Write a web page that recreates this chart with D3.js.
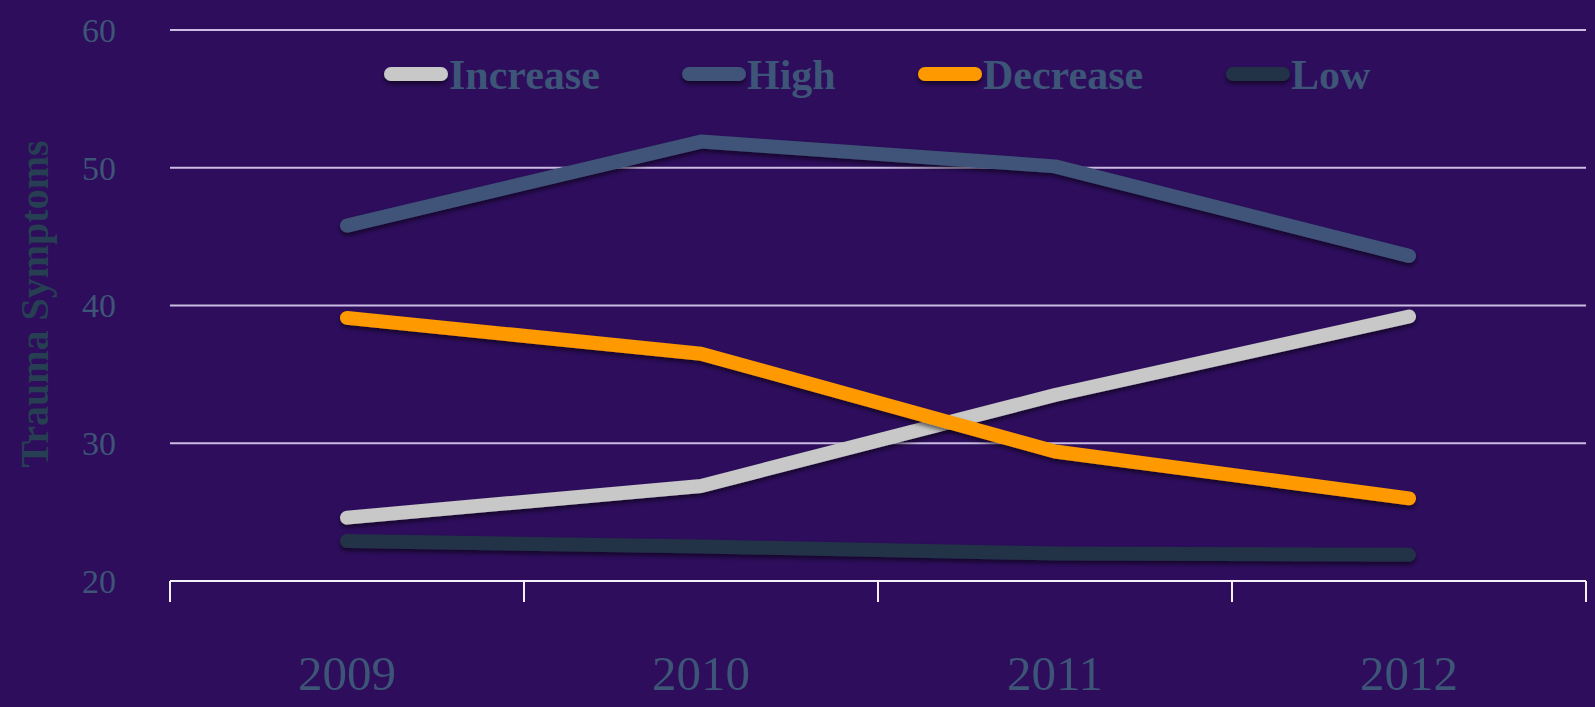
<!DOCTYPE html>
<html>
<head>
<meta charset="utf-8">
<script src="https://cdn.jsdelivr.net/npm/d3@7/dist/d3.min.js"></script>
<style>
  html, body { margin: 0; padding: 0; background: #2d0d5c; }
  svg { display: block; }
</style>
</head>
<body>
<svg id="chart" width="1595" height="707"></svg>
<script>
// Trauma symptom trajectories by group, 2009–2012
const years = ["2009", "2010", "2011", "2012"];
const seriesNames = ["Increase", "High", "Decrease", "Low"];
const seriesColors = ["#c8c8c8", "#3f5379", "#ff9900", "#243047"];
const increaseValues = [24.6, 26.9, 33.5, 39.2];
const highValues = [45.8, 51.9, 50.1, 43.6];
const decreaseValues = [39.1, 36.5, 29.4, 26.0];
const lowValues = [22.9, 22.5, 22.0, 21.9];
const yTicks = [20, 30, 40, 50, 60];
const yTitle = "Trauma Symptoms";

const series = [increaseValues, highValues, decreaseValues, lowValues].map((vals, i) => ({
  name: seriesNames[i],
  color: seriesColors[i],
  values: vals
}));

const svg = d3.select("#chart");
const W = 1595, H = 707;
const margin = { left: 170, right: 9, top: 30, bottom: 126 };
const plotW = W - margin.left - margin.right;
const plotH = H - margin.top - margin.bottom;

const labelColor = "#3d5577";
const serif = "'Liberation Serif', 'Times New Roman', serif";

// drop shadow under the data lines (user-space region so flat lines still render)
const defs = svg.append("defs");
const f = defs.append("filter").attr("id", "shadow")
  .attr("filterUnits", "userSpaceOnUse")
  .attr("x", -50).attr("y", -50).attr("width", W + 100).attr("height", H + 100);
f.append("feDropShadow").attr("dx", 0).attr("dy", 3).attr("stdDeviation", 2.2)
  .attr("flood-color", "#000").attr("flood-opacity", 0.55);

const x = d3.scaleBand().domain(years).range([0, plotW]).paddingInner(0).paddingOuter(0);
const y = d3.scaleLinear().domain([20, 60]).range([plotH, 0]);

const g = svg.append("g").attr("transform", `translate(${margin.left},${margin.top})`);

// horizontal gridlines
g.append("g").selectAll("line")
  .data(yTicks.filter(t => t > 20))
  .join("line")
  .attr("x1", 0).attr("x2", plotW)
  .attr("y1", d => y(d)).attr("y2", d => y(d))
  .attr("stroke", "#cbbce2").attr("stroke-width", 2);

// y tick labels
g.append("g").selectAll("text")
  .data(yTicks)
  .join("text")
  .attr("x", -54).attr("y", d => y(d))
  .attr("dy", "0.35em")
  .attr("text-anchor", "end")
  .attr("font-family", serif).attr("font-size", 34)
  .attr("fill", labelColor)
  .text(d => d);

// x axis with category boundary ticks
const xAxis = g.append("g").attr("transform", `translate(0,${plotH})`);
xAxis.append("line").attr("x1", 0).attr("x2", plotW).attr("y1", 0).attr("y2", 0)
  .attr("stroke", "#f4f0fa").attr("stroke-width", 2);
const boundaries = years.map(d => x(d)).concat([plotW]);
xAxis.selectAll("line.tick").data(boundaries).join("line")
  .attr("class", "tick")
  .attr("x1", d => d).attr("x2", d => d)
  .attr("y1", 0).attr("y2", 21)
  .attr("stroke", "#f4f0fa").attr("stroke-width", 2);
xAxis.selectAll("text").data(years).join("text")
  .attr("x", d => x(d) + x.bandwidth() / 2)
  .attr("y", 109)
  .attr("text-anchor", "middle")
  .attr("font-family", serif).attr("font-size", 49)
  .attr("fill", labelColor)
  .text(d => d);

// y axis title
svg.append("text")
  .attr("transform", `translate(48,${margin.top + 274}) rotate(-90)`)
  .attr("text-anchor", "middle")
  .attr("font-family", serif).attr("font-size", 40).attr("font-weight", "bold")
  .attr("fill", "#273f52")
  .text(yTitle);

// data lines
const line = d3.line()
  .x((d, i) => x(years[i]) + x.bandwidth() / 2)
  .y(d => y(d));

g.append("g").selectAll("path")
  .data(series)
  .join("path")
  .attr("d", d => line(d.values))
  .attr("fill", "none")
  .attr("stroke", d => d.color)
  .attr("stroke-width", 14)
  .attr("stroke-linecap", "round")
  .attr("stroke-linejoin", "round")
  .attr("filter", "url(#shadow)");

// legend
const legendX = [391, 689, 925, 1233];
const legend = svg.append("g");
series.forEach((s, i) => {
  const lg = legend.append("g").attr("transform", `translate(${legendX[i]},74)`);
  lg.append("line").attr("x1", 0).attr("x2", 50).attr("y1", 0).attr("y2", 0)
    .attr("stroke", s.color).attr("stroke-width", 14).attr("stroke-linecap", "round")
    .attr("filter", "url(#shadow)");
  lg.append("text").attr("x", 58).attr("y", 0).attr("dy", "0.35em")
    .attr("font-family", serif).attr("font-size", 42).attr("font-weight", "bold")
    .attr("fill", labelColor)
    .text(s.name);
});
</script>
</body>
</html>
